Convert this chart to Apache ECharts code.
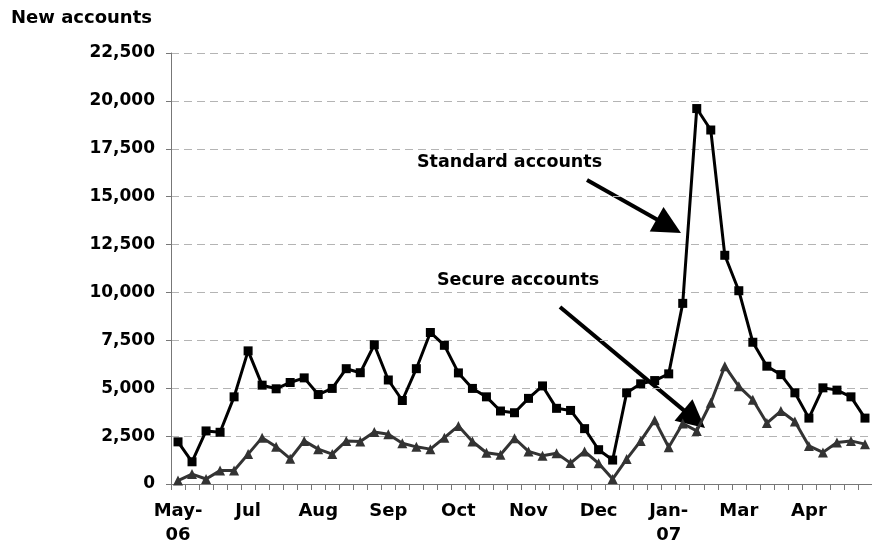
<!DOCTYPE html>
<html>
<head>
<meta charset="utf-8">
<script src="https://cdn.jsdelivr.net/npm/echarts@6/dist/echarts.min.js"></script>
<style>
  html, body { margin: 0; padding: 0; background: #fff; }
  #chart { width: 872px; height: 547px; }
</style>
</head>
<body>
<div id="chart"></div>
<script>
// weekly points, May-06 .. May-07
const weeks = [
  "2006-05-29", "2006-06-05", "2006-06-12", "2006-06-19", "2006-06-26",
  "2006-07-03", "2006-07-10", "2006-07-17", "2006-07-24", "2006-07-31",
  "2006-08-07", "2006-08-14", "2006-08-21", "2006-08-28", "2006-09-04",
  "2006-09-11", "2006-09-18", "2006-09-25", "2006-10-02", "2006-10-09",
  "2006-10-16", "2006-10-23", "2006-10-30", "2006-11-06", "2006-11-13",
  "2006-11-20", "2006-11-27", "2006-12-04", "2006-12-11", "2006-12-18",
  "2006-12-25", "2007-01-01", "2007-01-08", "2007-01-15", "2007-01-22",
  "2007-01-29", "2007-02-05", "2007-02-12", "2007-02-19", "2007-02-26",
  "2007-03-05", "2007-03-12", "2007-03-19", "2007-03-26", "2007-04-02",
  "2007-04-09", "2007-04-16", "2007-04-23", "2007-04-30", "2007-05-07"
];

// one label every 5th week
const monthLabels = ["May-\n06", "Jul", "Aug", "Sep", "Oct", "Nov", "Dec", "Jan-\n07", "Mar", "Apr"];

const standard = [
  2200, 1160, 2770, 2700, 4550, 6950, 5160, 4970, 5300, 5540,
  4670, 4990, 6020, 5810, 7270, 5430, 4360, 6020, 7910, 7240,
  5800, 4990, 4550, 3810, 3720, 4470, 5120, 3950, 3840, 2890,
  1790, 1250, 4760, 5230, 5400, 5750, 9430, 19600, 18480, 11940,
  10090, 7400, 6150, 5710, 4760, 3440, 5020, 4900, 4550, 3440
];

const secure = [
  180, 520, 260, 700, 700, 1560, 2420, 1940, 1320, 2250,
  1820, 1560, 2250, 2220, 2720, 2600, 2130, 1940, 1820, 2420,
  3030, 2220, 1630, 1530, 2390, 1700, 1480, 1610, 1090, 1700,
  1080, 260, 1300, 2250, 3330, 1920, 3160, 2770, 4240, 6150,
  5100, 4400, 3180, 3810, 3260, 1990, 1650, 2170, 2250, 2080
];

const yTicks = { min: 0, max: 22500, step: 2500 };

const font = "DejaVu Sans";
const chart = echarts.init(document.getElementById("chart"), null, { renderer: "canvas" });

// arrow = shaft + triangular head, pixel space annotation
function arrow(x1, y1, x2, y2) {
  const dx = x2 - x1, dy = y2 - y1;
  const len = Math.sqrt(dx * dx + dy * dy);
  const ux = dx / len, uy = dy / len;
  const nx = -uy, ny = ux;
  const headLen = 28, half = 14;
  const bx = x2 - headLen * ux, by = y2 - headLen * uy;
  return [
    {
      type: "line",
      shape: { x1: x1, y1: y1, x2: bx + 4 * ux, y2: by + 4 * uy },
      style: { stroke: "#000", lineWidth: 4 }
    },
    {
      type: "polygon",
      shape: { points: [[x2, y2], [bx + half * nx, by + half * ny], [bx - half * nx, by - half * ny]] },
      style: { fill: "#000" }
    }
  ];
}

chart.setOption({
  animation: false,
  backgroundColor: "#fff",
  title: {
    text: "New accounts",
    left: 6,
    top: 4,
    textStyle: { fontFamily: font, fontWeight: "bold", fontSize: 18, color: "#000" }
  },
  grid: { left: 171, top: 53, width: 705, height: 433, containLabel: false },
  xAxis: {
    type: "category",
    data: weeks,
    boundaryGap: true,
    axisLine: { lineStyle: { color: "#777", width: 1 } },
    axisTick: { show: true, interval: 0, length: 6, lineStyle: { color: "#777" } },
    axisLabel: {
      interval: 4,
      margin: 15,
      fontFamily: font,
      fontWeight: "bold",
      fontSize: 18,
      color: "#000",
      lineHeight: 24,
      formatter: (v, i) => monthLabels[Math.round(i / 5)] || ""
    },
    splitLine: { show: false }
  },
  yAxis: {
    type: "value",
    min: yTicks.min,
    max: yTicks.max,
    interval: yTicks.step,
    axisLine: { show: true, lineStyle: { color: "#777", width: 1 } },
    axisTick: { show: true, length: 5, lineStyle: { color: "#777" } },
    axisLabel: {
      margin: 16,
      fontFamily: font,
      fontWeight: "bold",
      fontSize: 17,
      color: "#000",
      formatter: v => v.toLocaleString("en-US")
    },
    splitLine: { show: true, lineStyle: { color: "#b4b4b4", type: [8, 5], width: 1 } }
  },
  series: [
    {
      name: "Secure accounts",
      type: "line",
      data: secure,
      symbol: "triangle",
      symbolSize: 10,
      showAllSymbol: true,
      lineStyle: { color: "#333", width: 3 },
      itemStyle: { color: "#333", borderWidth: 0 },
      z: 2
    },
    {
      name: "Standard accounts",
      type: "line",
      data: standard,
      symbol: "rect",
      symbolSize: 9,
      showAllSymbol: true,
      lineStyle: { color: "#000", width: 3 },
      itemStyle: { color: "#000", borderWidth: 0 },
      z: 3
    }
  ],
  graphic: [
    {
      type: "text",
      left: 417,
      top: 153,
      style: { text: "Standard accounts", fontFamily: font, fontWeight: "bold", fontSize: 17.5, fill: "#000" }
    },
    {
      type: "text",
      left: 437,
      top: 271,
      style: { text: "Secure accounts", fontFamily: font, fontWeight: "bold", fontSize: 17.5, fill: "#000" }
    },
    ...arrow(587, 180, 681, 233),
    ...arrow(560, 307, 705, 428)
  ]
});

window.addEventListener("resize", () => chart.resize());
</script>
</body>
</html>
